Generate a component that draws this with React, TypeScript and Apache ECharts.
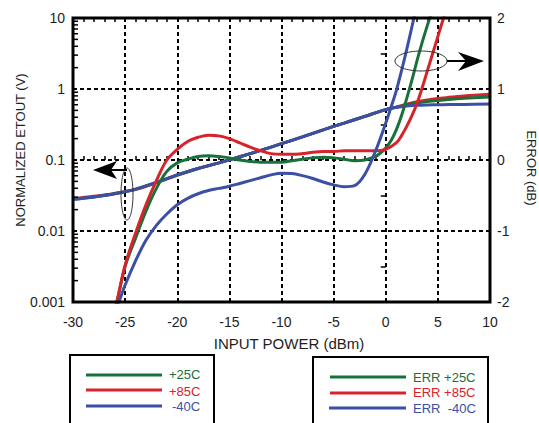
import React, { useEffect, useRef } from "react";
import * as echarts from "echarts";

// ---------- data ----------
const xTickValues = [-30, -25, -20, -15, -10, -5, 0, 5, 10];
const logTickLabels = ["0.001", "0.01", "0.1", "1", "10"];
const errTickLabels = ["-2", "-1", "0", "1", "2"];

// Normalized ETOUT (V) vs input power (dBm)
const etoutX = [-30, -28, -26, -24, -22, -20, -18, -16, -14, -12, -10, -8, -6, -4, -2, 0, 1, 2, 3, 4, 5, 6, 7.5, 10];
const etout85 = [0.0285, 0.0308, 0.0339, 0.0385, 0.0476, 0.061, 0.0759, 0.0912, 0.1109, 0.1365, 0.1698, 0.2113, 0.266, 0.331, 0.412, 0.513, 0.556, 0.61, 0.661, 0.7, 0.733, 0.762, 0.798, 0.841];
const etout25 = [0.0279, 0.0302, 0.0335, 0.0389, 0.0484, 0.0617, 0.0759, 0.0912, 0.1109, 0.1365, 0.1698, 0.2113, 0.266, 0.331, 0.412, 0.513, 0.552, 0.596, 0.634, 0.664, 0.689, 0.711, 0.738, 0.773];
const etoutM40 = [0.0279, 0.0302, 0.0335, 0.0389, 0.0484, 0.0617, 0.0759, 0.0912, 0.1109, 0.1365, 0.1698, 0.2113, 0.266, 0.331, 0.412, 0.513, 0.55, 0.575, 0.589, 0.596, 0.6, 0.603, 0.607, 0.614];

// Error (dB)
const err25X = [-26.2, -25.8, -25, -24, -23, -22, -21, -20, -19, -18, -17, -16, -15, -14, -13, -12, -11, -10, -9, -8, -7, -6, -5, -4, -3, -2, -1, -0.5, 0, 0.5, 1, 1.5, 2, 2.5, 3, 3.5, 4, 4.5];
const err25 = [-2.2, -2.0, -1.5, -1.1, -0.72, -0.4, -0.16, -0.04, 0.01, 0.05, 0.06, 0.05, 0.03, 0.0, -0.02, -0.03, -0.03, -0.03, -0.01, 0.01, 0.03, 0.04, 0.03, 0.01, -0.01, 0.0, 0.05, 0.1, 0.17, 0.27, 0.42, 0.62, 0.86, 1.12, 1.4, 1.66, 1.9, 2.12];

const err85X = [-26.2, -25.8, -25, -24, -23, -22, -21, -20, -19, -18, -17, -16, -15, -14, -13, -12, -11, -10, -9, -8, -7, -6, -5, -4, -3, -2, -1, 0, 1, 1.5, 2, 2.5, 3, 3.5, 4, 4.5, 5, 5.5, 6];
const err85 = [-2.2, -2.0, -1.48, -1.03, -0.63, -0.29, 0.0, 0.15, 0.26, 0.32, 0.35, 0.34, 0.3, 0.24, 0.18, 0.13, 0.09, 0.08, 0.08, 0.09, 0.11, 0.12, 0.12, 0.13, 0.13, 0.13, 0.13, 0.15, 0.24, 0.34, 0.47, 0.62, 0.8, 1.02, 1.26, 1.5, 1.74, 1.98, 2.2];

const errM40X = [-25.9, -25.6, -25, -24, -23, -22, -21, -20, -19, -18, -17, -16, -15, -14, -13, -12, -11, -10, -9, -8, -7, -6, -5, -4, -3, -2, -1, 0, 0.5, 1, 1.5, 2, 2.5, 3];
const errM40 = [-2.12, -2.0, -1.76, -1.42, -1.13, -0.92, -0.76, -0.63, -0.54, -0.475, -0.43, -0.4, -0.37, -0.33, -0.29, -0.25, -0.21, -0.185, -0.19, -0.22, -0.26, -0.31, -0.35, -0.375, -0.36, -0.2, 0.12, 0.52, 0.74, 0.97, 1.25, 1.55, 1.87, 2.2];

const legendTemps = ["+25C", "+85C", "-40C"];
const legendErr = ["ERR +25C", "ERR +85C", "ERR  -40C"];

const logMinorMultipliers = [2, 3, 4, 5, 6, 7, 8, 9];
const logDecades = [0.001, 0.01, 0.1, 1];

// ---------- styles ----------
const GREEN = "#18703b";
const RED = "#d8232a";
const BLUE = "#3b4fa5";
const FONT = '"Liberation Sans", Arial, Helvetica, sans-serif';
const TXT = "#1e1e1e";

const zip = (xs: number[], ys: number[]) => xs.map((x, i) => [x, ys[i]]);

export default function App() {
  const ref = useRef<HTMLDivElement>(null);
  useEffect(() => {
    if (!ref.current) return;
    const chart = echarts.init(ref.current, null, { renderer: "svg" });

    const logMinor = logDecades.flatMap((d) => logMinorMultipliers.map((m) => [-30, +(d * m).toPrecision(2)]));

    const lineSeries = (name: string, data: number[][], color: string, yAxisIndex: number, width = 3) => ({
      name,
      type: "line",
      data,
      yAxisIndex,
      xAxisIndex: 0,
      smooth: 0.35,
      showSymbol: false,
      symbol: "none",
      clip: true,
      lineStyle: { color, width },
      itemStyle: { color },
      z: 3,
    });

    const legendText = (text: string, x: number, y: number, color: string) => ({
      type: "text",
      x,
      y,
      z: 20,
      style: { text, fill: color, font: `13px ${FONT}`, textAlign: "left", textVerticalAlign: "middle", align: "left", verticalAlign: "middle" },
    });
    const legendLine = (x1: number, x2: number, y: number, color: string) => ({
      type: "line",
      z: 20,
      shape: { x1, y1: y, x2, y2: y },
      style: { stroke: color, lineWidth: 3 },
    });

    const option: any = {
      animation: false,
      backgroundColor: "#fff",
      textStyle: { fontFamily: FONT },
      grid: { left: 73, top: 18, width: 417, height: 284, show: true, borderColor: "#000", borderWidth: 3, backgroundColor: "transparent", z: 10 },
      xAxis: [
        {
          type: "value",
          position: "bottom",
          min: -30,
          max: 10,
          interval: 5,
          axisLine: { show: false },
          axisTick: { show: false, inside: true },
          minorTick: { show: true, splitNumber: 5, length: 4, lineStyle: { color: "#000", width: 1.5 } },
          minorSplitLine: { show: false },
          splitLine: { show: true, lineStyle: { color: "#000", width: 2, type: [4, 3] } },
          axisLabel: { color: TXT, fontSize: 14, margin: 13, fontFamily: FONT },
        },
        {
          type: "value",
          position: "top",
          min: -30,
          max: 10,
          interval: 5,
          axisLine: { show: false },
          axisTick: { show: false, inside: true },
          minorTick: { show: true, splitNumber: 5, length: 4, lineStyle: { color: "#000", width: 1.5 } },
          splitLine: { show: false },
          axisLabel: { show: false },
        },
      ],
      yAxis: [
        {
          type: "log",
          logBase: 10,
          min: 0.001,
          max: 10,
          splitNumber: 4,
          position: "left",
          axisLine: { show: false },
          axisTick: { show: false, inside: true },
          minorTick: { show: false },
          splitLine: { show: true, lineStyle: { color: "#000", width: 2, type: [4, 3] } },
          axisLabel: {
            color: TXT,
            fontSize: 14,
            margin: 8,
            fontFamily: FONT,
            formatter: (v: number) => logTickLabels[Math.round(Math.log10(v)) + 3] ?? "",
          },
        },
        {
          type: "value",
          position: "right",
          min: -2,
          max: 2,
          interval: 1,
          axisLine: { show: false },
          axisTick: { show: false, inside: true },
          minorTick: { show: true, splitNumber: 2, length: 5, lineStyle: { color: "#000", width: 1.5 } },
          splitLine: { show: false },
          axisLabel: {
            color: TXT,
            fontSize: 14,
            margin: 7,
            fontFamily: FONT,
            formatter: (v: number) => errTickLabels[Math.round(v) + 2] ?? "",
          },
        },
      ],
      series: [
        {
          type: "custom",
          xAxisIndex: 0,
          yAxisIndex: 0,
          silent: true,
          clip: false,
          z: 11,
          data: logMinor,
          renderItem: (_p: any, api: any) => {
            const pt = api.coord([api.value(0), api.value(1)]);
            return { type: "line", shape: { x1: pt[0], y1: pt[1], x2: pt[0] + 5, y2: pt[1] }, style: { stroke: "#000", lineWidth: 1.5 } };
          },
        },
        lineSeries("+85C", zip(etoutX, etout85), RED, 0),
        lineSeries("+25C", zip(etoutX, etout25), GREEN, 0),
        lineSeries("-40C", zip(etoutX, etoutM40), BLUE, 0),
        lineSeries("ERR +25C", zip(err25X, err25), GREEN, 1),
        lineSeries("ERR +85C", zip(err85X, err85), RED, 1),
        lineSeries("ERR -40C", zip(errM40X, errM40), BLUE, 1),
      ],
      graphic: [
        // axis titles
        {
          type: "text",
          x: 20,
          y: 150,
          rotation: Math.PI / 2,
          z: 20,
          style: { text: "NORMALIZED ETOUT (V)", fill: TXT, font: `13px ${FONT}`, textAlign: "center", textVerticalAlign: "middle", align: "center", verticalAlign: "middle" },
        },
        {
          type: "text",
          x: 531,
          y: 168,
          rotation: -Math.PI / 2,
          z: 20,
          style: { text: "ERROR (dB)", fill: TXT, font: `13px ${FONT}`, textAlign: "center", textVerticalAlign: "middle", align: "center", verticalAlign: "middle" },
        },
        {
          type: "text",
          x: 289,
          y: 343,
          z: 20,
          style: { text: "INPUT POWER (dBm)", fill: TXT, font: `15px ${FONT}`, textAlign: "center", textVerticalAlign: "middle", align: "center", verticalAlign: "middle" },
        },
        // left oval + arrow
        { type: "ellipse", z: 20, shape: { cx: 127, cy: 194, rx: 6, ry: 26 }, style: { fill: "none", stroke: "#333", lineWidth: 1 } },
        { type: "line", z: 20, shape: { x1: 111, y1: 170, x2: 127, y2: 170 }, style: { stroke: "#000", lineWidth: 2 } },
        { type: "polygon", z: 20, shape: { points: [[93, 170], [117, 161], [111, 170], [117, 179]] }, style: { fill: "#000" } },
        // right oval + arrow
        { type: "ellipse", z: 20, shape: { cx: 421, cy: 61, rx: 26, ry: 10 }, style: { fill: "none", stroke: "#333", lineWidth: 1 } },
        { type: "line", z: 20, shape: { x1: 447, y1: 61, x2: 467, y2: 61 }, style: { stroke: "#000", lineWidth: 2 } },
        { type: "polygon", z: 20, shape: { points: [[484, 61], [458, 52], [466, 61], [458, 71]] }, style: { fill: "#000" } },
        // left legend
        { type: "rect", z: 19, shape: { x: 70, y: 355, width: 144, height: 100 }, style: { fill: "#fff", stroke: "#000", lineWidth: 2 } },
        legendLine(86, 162, 375, GREEN),
        legendLine(86, 162, 390, RED),
        legendLine(86, 162, 406, BLUE),
        legendText(legendTemps[0], 169, 374, GREEN),
        legendText(legendTemps[1], 169, 391, RED),
        legendText(legendTemps[2], 172, 406, BLUE),
        // right legend
        { type: "rect", z: 19, shape: { x: 313, y: 357, width: 175, height: 100 }, style: { fill: "#fff", stroke: "#000", lineWidth: 2 } },
        legendLine(330, 406, 377, GREEN),
        legendLine(330, 406, 393, RED),
        legendLine(329, 406, 408, BLUE),
        legendText(legendErr[0], 413, 377, GREEN),
        legendText(legendErr[1], 413, 392, RED),
        legendText(legendErr[2], 413, 408, BLUE),
      ],
    };
    chart.setOption(option);
    return () => chart.dispose();
  }, []);
  return <div ref={ref} style={{ position: "absolute", left: 0, top: 0, width: 539, height: 423 }} />;
}
